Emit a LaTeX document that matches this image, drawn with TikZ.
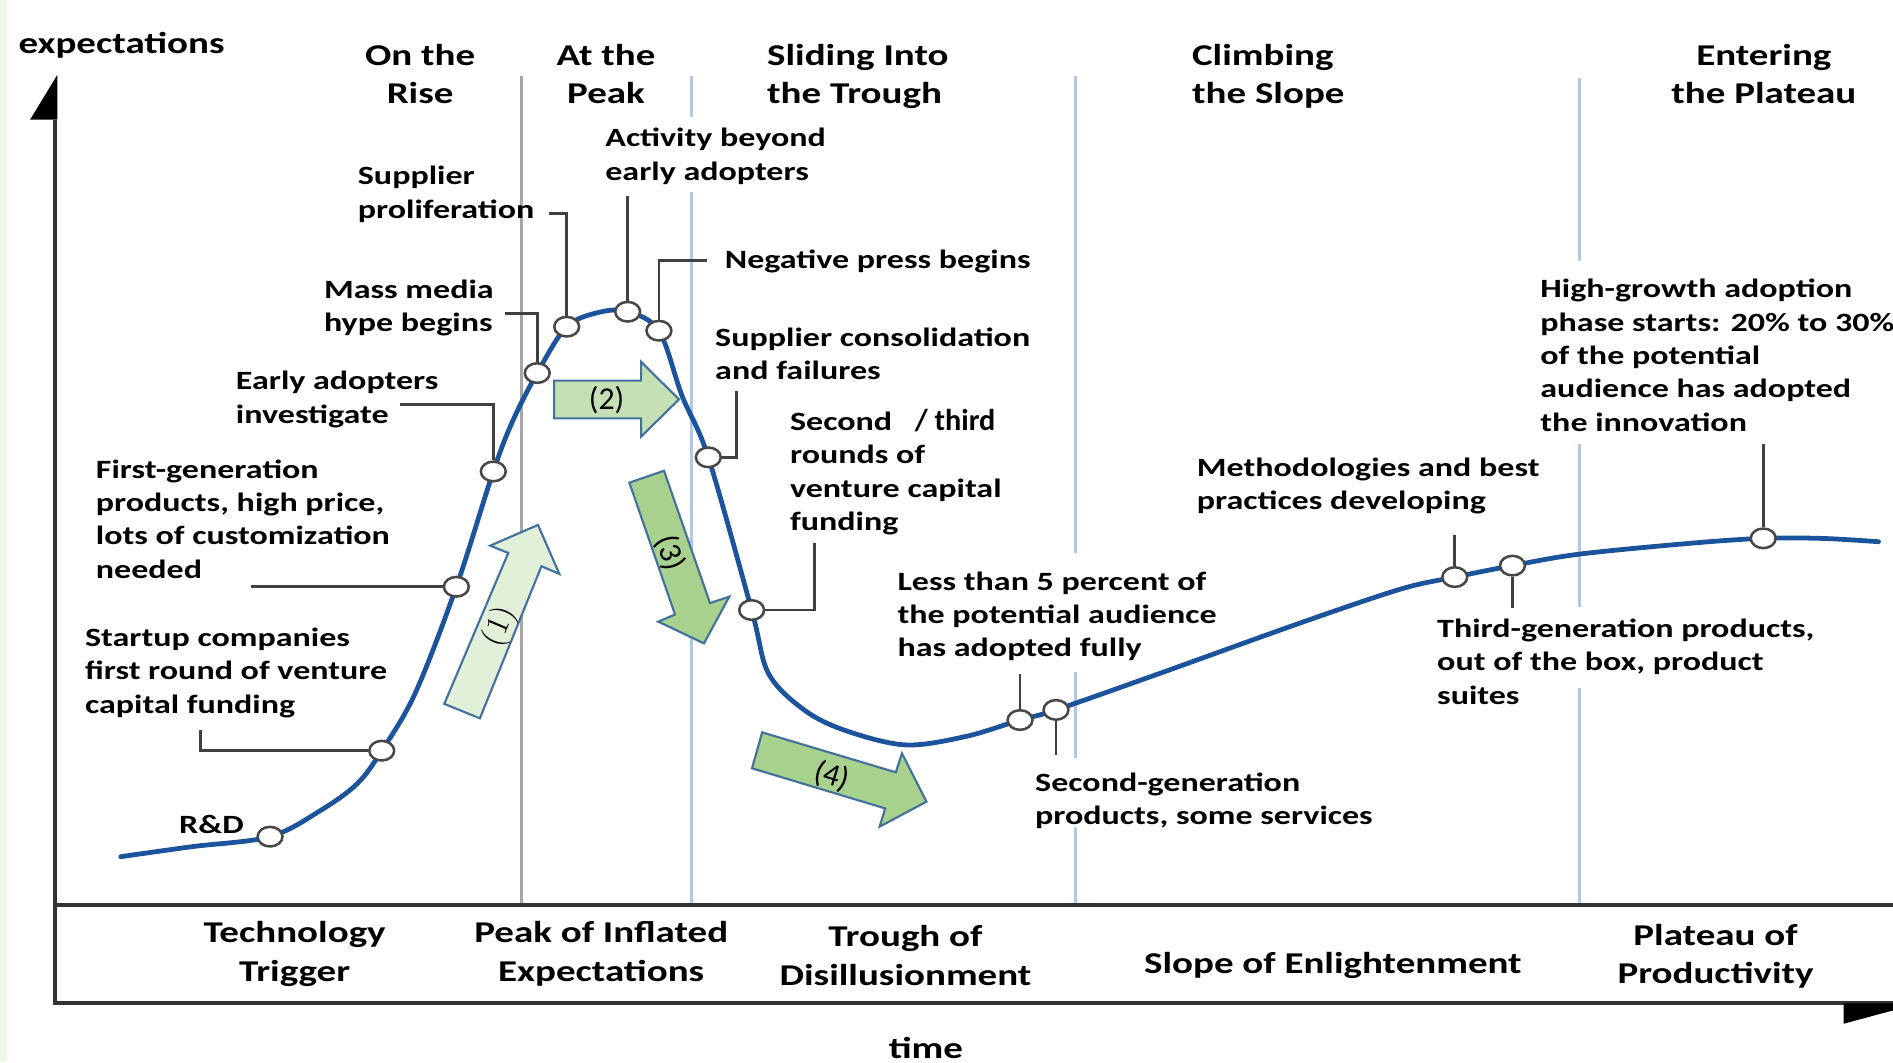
\documentclass[tikz,border=0pt]{standalone}
\usepackage{fontspec}
\setmainfont{Carlito}[FakeStretch=1.29]
\newfontfamily\plainfont{Carlito}
\usetikzlibrary{shapes.geometric}

\definecolor{hypeblue}{HTML}{1B539C}
\definecolor{phaseblue}{HTML}{B4C7E7}
\definecolor{arrowedge}{HTML}{41719C}
\definecolor{greenA}{HTML}{E2F0D9}
\definecolor{greenB}{HTML}{C5E0B4}
\definecolor{greenC}{HTML}{A9D18E}
\definecolor{leftstrip}{HTML}{EEF6E8}

% base anchor of a multi-line node is the baseline of its last line
\tikzset{
  note/.style={font=\bfseries\fontsize{9.95}{12.57}\selectfont,
    align=left, anchor=base west, inner sep=0pt},
  phase/.style={font=\bfseries\fontsize{11.4}{14.6}\selectfont,
    align=center, anchor=base, inner sep=0pt},
  marker/.style={ellipse, draw=black!72, fill=white, line width=0.95pt,
    minimum width=0.33cm, minimum height=0.26cm, inner sep=0pt},
  leader/.style={draw=black!75, line width=1pt},
  axis/.style={draw=black!80, line width=1.5pt},
  sepline/.style={draw=phaseblue, line width=1.2pt},
  bigarrow/.style={draw=arrowedge, line width=0.8pt, line join=miter},
  stage/.style={font=\plainfont\fontsize{12}{12}\selectfont, inner sep=0pt}
}

\begin{document}
\begin{tikzpicture}[x=0.016cm, y=-0.016cm]
  \useasboundingbox (0,0) rectangle (1568,880);
  \fill[leftstrip] (0,0) rectangle (6,880);

  % phase separators
  \draw[black!35, line width=0.8pt] (432,63) -- (432,750);
  \draw[sepline] (572.5,63) -- (572.5,97) (572.5,159) -- (572.5,750);
  \draw[sepline] (891,63) -- (891,458) (891,557) -- (891,628) (891,685) -- (891,750);
  \draw[sepline] (1308,65) -- (1308,216) (1308,368) -- (1308,503) (1308,570) -- (1308,750);

  % axes
  \draw[axis] (45.5,99) -- (45.5,831) -- (1568,831);
  \draw[axis] (45.5,750) -- (1568,750);
  \fill[black] (47.5,62) -- (47.5,99) -- (25,99) -- cycle;
  \fill[black] (1527,831) -- (1527,848) -- (1590,831) -- cycle;

  % stage arrows
  \draw[bigarrow, fill=greenA] (368,583) -- (421,458) -- (406,452) -- (445.6,434.8)
  -- (463.3,475.4) -- (448.5,469) -- (397.5,595) -- cycle;
  \draw[bigarrow, fill=greenB] (459,315.3) -- (531,315.3) -- (531,299.6) -- (562.4,330.8)
  -- (531,361.7) -- (531,346.5) -- (459,346.5) -- cycle;
  \draw[bigarrow, fill=greenC] (521.3,399.8) -- (550,389.9) -- (588.1,499.5) -- (604.1,494.2)
  -- (583.1,532.9) -- (545.3,514.9) -- (559.1,509) -- cycle;
  \draw[bigarrow, fill=greenC] (631.3,606.6) -- (742,639.7) -- (747.1,624) -- (767.4,664)
  -- (728.6,684.7) -- (733.2,669.6) -- (622.9,636.4) -- cycle;
  \node[stage, rotate=67] (s1) at (414,519) {$(1)$};
  \node[stage] (s2) at (502.5,331) {(2)};
  \node[stage, rotate=-71] (s3) at (555,458) {(3)};
  \node[stage, rotate=-17] (s4) at (689,643) {(4)};

  % hype curve
  \draw[hypeblue, line width=1.8pt, line cap=round]
  plot[smooth, tension=0.55] coordinates {
    (100,709.6) (159,701.3) (223.7,693) (266,671) (296,649) (316.2,621.8)
    (344,574) (378,486) (408.6,390.5) (425,348) (445,309) (469.4,270.6)
    (497,258.5) (519.9,258.2) (545.8,273.9) (565,328) (586.7,378.8)
    (622.6,505.3) (636.5,557.7) (666,588) (700,605) (750,617) (800,610)
    (844.9,596.4) (874.7,588) (960,558) (1077,516) (1160,488) (1205,478)
    (1252.8,468.5) (1308,459) (1400,450) (1460.5,445.9) (1510,446) (1556,448.7)};

  % markers on the curve
  \node[marker] (m1) at (223.7,693) {};
  \node[marker] (m2) at (316.2,621.8) {};
  \node[marker] (m3) at (378,486) {};
  \node[marker] (m4) at (408.6,390.5) {};
  \node[marker] (m5) at (445,309) {};
  \node[marker] (m6) at (469.4,270.6) {};
  \node[marker] (m7) at (519.9,258.2) {};
  \node[marker] (m8) at (545.8,273.9) {};
  \node[marker] (m9) at (586.7,378.8) {};
  \node[marker] (m10) at (622.6,505.3) {};
  \node[marker] (m11) at (844.9,596.4) {};
  \node[marker] (m12) at (874.7,588) {};
  \node[marker] (m13) at (1205,478) {};
  \node[marker] (m14) at (1252.8,468.5) {};
  \node[marker] (m15) at (1460.5,445.9) {};

  % phase titles
  \node[phase, anchor=base west] (ylabel) at (15,44) {expectations};
  \node[phase] (h1) at (348,86) {On the\\Rise};
  \node[phase] (h2) at (502,86) {At the\\Peak};
  \node[phase, align=left, anchor=base west] (h3) at (635,86) {Sliding Into\\the Trough};
  \node[phase, align=left, anchor=base west] (h4) at (987,86) {Climbing\\the Slope};
  \node[phase] (h5) at (1461,86) {Entering\\the Plateau};

  \node[phase] (p1) at (244,813) {Technology\\Trigger};
  \node[phase] (p2) at (498,813) {Peak of Inflated\\Expectations};
  \node[phase] (p3) at (750,816) {Trough of\\Disillusionment};
  \node[phase] (p4) at (1104,806) {Slope of Enlightenment};
  \node[phase] (p5) at (1421,815) {Plateau of\\Productivity};
  \node[phase] (xlabel) at (767,877) {time};

  % notes
  \node[note] (t1) at (148,690) {R\&D};
  \node[note] (t2) at (70,590.8) {Startup companies\\first round of venture\\capital funding};
  \node[note] (t3) at (79,478.8) {First-generation\\products, high price,\\lots of customization\\needed};
  \node[note] (t4) at (195,350.6) {Early adopters\\investigate};
  \node[note] (t5) at (268,274.6) {Mass media\\hype begins};
  \node[note] (t6) at (296,180.6) {Supplier\\proliferation};
  \node[note] (t7) at (501,149.1) {Activity beyond\\early adopters};
  \node[note] (t8) at (600,222) {Negative press begins};
  \node[note] (t9) at (592,314.6) {Supplier consolidation\\and failures};
  \node[note] (t10) at (654,439.5) {Second\hspace{0.3cm}{\plainfont\fontsize{11.4}{12.57}\selectfont / third}\\rounds of\\venture capital\\funding};
  \node[note] (t11) at (743,543.9) {Less than 5 percent of\\the potential audience\\has adopted fully};
  \node[note] (t12) at (857,683.3) {Second-generation\\products, some services};
  \node[note] (t13) at (991,422.3) {Methodologies and best\\practices developing};
  \node[note] (t14) at (1190,583.2) {Third-generation products,\\out of the box, product\\suites};
  \node[note] (t15) at (1275.5,357) {High-growth adoption\\phase starts: 20\% to 30\%\\of the potential\\audience has adopted\\the innovation};

  % leaders
  \coordinate (l2) at (166,605);
  \coordinate (l3) at (208,486);
  \coordinate (l4) at (331,335);
  \coordinate (l5) at (418,259.5);
  \coordinate (l6) at (455,177);
  \coordinate (l7) at (519.9,162);
  \coordinate (l8) at (586,216);
  \coordinate (l9) at (610,324);
  \coordinate (l10) at (674.5,450);
  \coordinate (l11) at (844.9,558);
  \coordinate (l12) at (874.7,625);
  \coordinate (l13) at (1205,443);
  \coordinate (l14) at (1252.8,504);
  \coordinate (l15) at (1460.5,368);
  \draw[leader] (m2) -| (l2);
  \draw[leader] (m3) -- (l3);
  \draw[leader] (m4) |- (l4);
  \draw[leader] (m5) |- (l5);
  \draw[leader] (m6) |- (l6);
  \draw[leader] (m7) -- (l7);
  \draw[leader] (m8) |- (l8);
  \draw[leader] (m9) -| (l9);
  \draw[leader] (m10) -| (l10);
  \draw[leader] (m11) -- (l11);
  \draw[leader] (m12) -- (l12);
  \draw[leader] (m13) -- (l13);
  \draw[leader] (m14) -- (l14);
  \draw[leader] (m15) -- (l15);
\end{tikzpicture}
\end{document}
